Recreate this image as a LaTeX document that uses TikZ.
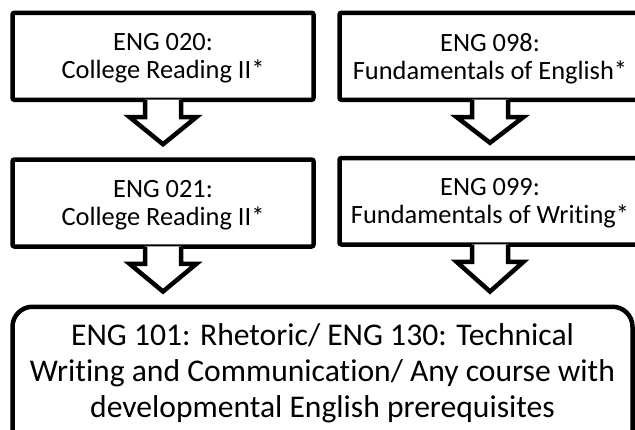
\documentclass[tikz,border=0pt]{standalone}
\usepackage{fontspec}
\setmainfont{Carlito}[Ligatures={NoCommon,NoRare}]
\usetikzlibrary{calc}
\begin{document}
\begin{tikzpicture}[x=1pt,y=-1pt,line width=4.5pt,
  box/.style={draw, rounded corners=2pt, minimum width=301pt, minimum height=87pt,
    align=center, font=\fontsize{26.4}{28}\selectfont, text depth=0pt, inner sep=0pt},
  bigbox/.style={draw, rounded corners=20pt, minimum width=620pt, minimum height=151pt,
    align=center, font=\fontsize{31.6}{36}\selectfont, text depth=24pt, inner sep=0pt, anchor=north},
  arrowline/.style={draw, line join=miter},
  arrowfill/.style={fill=white, draw=none}]
\useasboundingbox (0,0) rectangle (635,429);
\clip (0,0) rectangle (635,429);
\fill[white] (0,0) rectangle (635,429);

\node[box] (b020) at (163,56.25) {ENG 020:\\College Reading II*};
\node[box] (b098) at (490,56.25) {ENG 098:\\Fundamentals of English*};
\node[box] (b021) at (163,203) {ENG 021:\\College Reading II*};
\node[box, minimum height=86.5pt] (b099) at (490,201.25) {ENG 099:\\Fundamentals of Writing*};
\node[bigbox] (bot) at (322.5,304.5) {ENG 101: Rhetoric/ ENG 130: Technical\\Writing and Communication/ Any course with\\developmental English prerequisites};

\foreach \s/\t in {b020/b021, b098/b099, b021/bot, b099/bot}{
  \path[arrowfill] ($(\s.south)+(-18,-2.5)$) -- ($(\s.south)+(-18,15)$) -- ($(\s.south)+(-33.5,15)$)
    -- ($(\s.south |- \t.north)+(0,-13)$) -- ($(\s.south)+(33.5,15)$) -- ($(\s.south)+(18,15)$)
    -- ($(\s.south)+(18,-2.5)$) -- cycle;
  \path[arrowline] ($(\s.south)+(-18,-2.25)$) -- ($(\s.south)+(-18,15)$) -- ($(\s.south)+(-33.5,15)$)
    -- ($(\s.south |- \t.north)+(0,-13)$) -- ($(\s.south)+(33.5,15)$) -- ($(\s.south)+(18,15)$)
    -- ($(\s.south)+(18,-2.25)$);
}
\end{tikzpicture}
\end{document}
